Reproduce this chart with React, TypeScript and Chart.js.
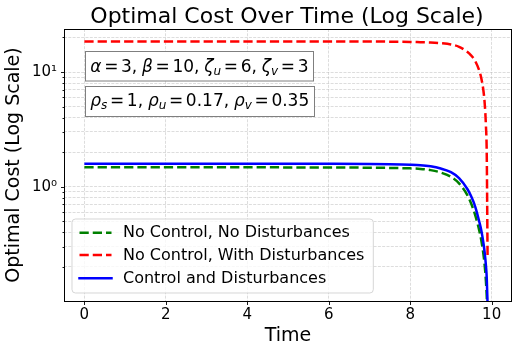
import React, { useEffect, useRef } from 'react';
import { Chart, registerables } from 'chart.js';

Chart.register(...registerables);

// ---- data ----
const TIMES = [0, 1, 2, 3, 4, 5, 6, 7, 7.5, 8, 8.25, 8.5, 8.75, 9, 9.2, 9.4, 9.5, 9.6, 9.7, 9.75, 9.8, 9.83, 9.86, 9.88, 9.9];
const COST_NO_CONTROL_NO_DIST = [1.476, 1.476, 1.476, 1.476, 1.475, 1.474, 1.472, 1.465, 1.458, 1.445, 1.43, 1.395, 1.33, 1.22, 1.07, 0.85, 0.71, 0.56, 0.41, 0.335, 0.255, 0.205, 0.15, 0.11, 0.07];
const COST_NO_CONTROL_WITH_DIST = [18.5, 18.5, 18.5, 18.5, 18.5, 18.5, 18.48, 18.45, 18.4, 18.3, 18.2, 18.1, 17.85, 17.4, 16.6, 15.0, 13.9, 12.4, 10.2, 8.7, 6.8, 5.3, 3.4, 1.9, 0.25];
const COST_CONTROL_AND_DIST = [1.587, 1.587, 1.587, 1.587, 1.586, 1.585, 1.583, 1.577, 1.57, 1.555, 1.54, 1.505, 1.44, 1.34, 1.19, 0.96, 0.82, 0.665, 0.49, 0.41, 0.32, 0.265, 0.205, 0.16, 0.095];

const SERIES_LABELS = ['No Control, No Disturbances', 'No Control, With Disturbances', 'Control and Disturbances'];
const SERIES_COLORS = ['#008000', '#ff0000', '#0000ff'];
const SERIES_DASHED = [true, true, false];

const X_TICKS = [0, 2, 4, 6, 8, 10];
const Y_TICKS = [0.2, 0.3, 0.4, 0.5, 0.6, 0.7, 0.8, 0.9, 1, 2, 3, 4, 5, 6, 7, 8, 9, 10, 20];
const Y_MAJOR = [1, 10];
const Y_TICK_LABELS: Record<number, string> = { 1: '10⁰', 10: '10¹' };

const TITLE = 'Optimal Cost Over Time (Log Scale)';
const X_LABEL = 'Time';
const Y_LABEL = 'Optimal Cost (Log Scale)';

type Seg = { s: string; it?: boolean; sub?: boolean; rel?: boolean; punct?: boolean };
const ANNOT_LINES: Seg[][] = [
  [
    { s: 'α', it: true }, { s: '=', rel: true }, { s: '3' }, { s: ',', punct: true },
    { s: 'β', it: true }, { s: '=', rel: true }, { s: '10' }, { s: ',', punct: true },
    { s: 'ζ', it: true }, { s: 'u', it: true, sub: true }, { s: '=', rel: true }, { s: '6' }, { s: ',', punct: true },
    { s: 'ζ', it: true }, { s: 'v', it: true, sub: true }, { s: '=', rel: true }, { s: '3' },
  ],
  [
    { s: 'ρ', it: true }, { s: 's', it: true, sub: true }, { s: '=', rel: true }, { s: '1' }, { s: ',', punct: true },
    { s: 'ρ', it: true }, { s: 'u', it: true, sub: true }, { s: '=', rel: true }, { s: '0.17' }, { s: ',', punct: true },
    { s: 'ρ', it: true }, { s: 'v', it: true, sub: true }, { s: '=', rel: true }, { s: '0.35' },
  ],
];

const FONT = '"DejaVu Sans", sans-serif';
const GRID = 'rgba(176,176,176,0.55)';

function drawMath(ctx: CanvasRenderingContext2D, segs: Seg[], x0: number, baseline: number, size: number, draw: boolean): number {
  let x = x0;
  const subSize = Math.round(size * 0.7);
  const relGap = size * 0.155;
  for (const sg of segs) {
    const fs = sg.sub ? subSize : size;
    ctx.font = `${sg.it ? 'italic ' : ''}${fs}px ${FONT}`;
    if (sg.rel) x += relGap;
    const w = ctx.measureText(sg.s).width;
    if (draw) ctx.fillText(sg.s, x, baseline + (sg.sub ? size * 0.2 : 0));
    x += w;
    if (sg.rel) x += relGap;
    if (sg.punct) {
      ctx.font = `${size}px ${FONT}`;
      x += ctx.measureText(' ').width * 0.9;
    }
  }
  return x - x0;
}

const overlayPlugin = {
  id: 'overlay',
  afterDatasetsDraw(chart: any) {
    const { ctx, chartArea } = chart;
    const xs = chart.scales.x;
    const ys = chart.scales.y;
    ctx.save();

    // annotation boxes
    const boxes = [
      { top: 51.5, h: 29.5, base: 71.7 },
      { top: 86.5, h: 30, base: 106 },
    ];
    ANNOT_LINES.forEach((segs, i) => {
      const b = boxes[i];
      const left = 85.5;
      const tx = left + 4.8;
      ctx.textAlign = 'left';
      ctx.textBaseline = 'alphabetic';
      const w = drawMath(ctx, segs, tx, b.base, 17, false);
      const bw = Math.round(tx + w + 5 - left);
      ctx.fillStyle = '#ffffff';
      ctx.fillRect(left, b.top, bw, b.h);
      ctx.strokeStyle = '#7f7f7f';
      ctx.lineWidth = 1;
      ctx.strokeRect(left, b.top, bw, b.h);
      ctx.fillStyle = '#000';
      drawMath(ctx, segs, tx, b.base, 17, true);
    });

    // legend
    const lx = 72, ly = 219, lw = 301.3, lh = 74, r = 3.5;
    ctx.beginPath();
    ctx.moveTo(lx + r, ly);
    ctx.lineTo(lx + lw - r, ly);
    ctx.quadraticCurveTo(lx + lw, ly, lx + lw, ly + r);
    ctx.lineTo(lx + lw, ly + lh - r);
    ctx.quadraticCurveTo(lx + lw, ly + lh, lx + lw - r, ly + lh);
    ctx.lineTo(lx + r, ly + lh);
    ctx.quadraticCurveTo(lx, ly + lh, lx, ly + lh - r);
    ctx.lineTo(lx, ly + r);
    ctx.quadraticCurveTo(lx, ly, lx + r, ly);
    ctx.closePath();
    ctx.fillStyle = 'rgba(255,255,255,0.8)';
    ctx.fill();
    ctx.strokeStyle = 'rgba(204,204,204,0.8)';
    ctx.lineWidth = 1;
    ctx.stroke();
    const rows = [232.7, 255, 278.3];
    SERIES_LABELS.forEach((lab, i) => {
      const yy = rows[i];
      ctx.beginPath();
      ctx.strokeStyle = SERIES_COLORS[i];
      ctx.lineWidth = 2.5;
      ctx.setLineDash(SERIES_DASHED[i] ? [9.25, 4] : []);
      ctx.lineCap = SERIES_DASHED[i] ? 'butt' : 'square';
      ctx.moveTo(79.5, yy);
      ctx.lineTo(111.5, yy);
      ctx.stroke();
      ctx.setLineDash([]);
      ctx.lineCap = 'butt';
      ctx.fillStyle = '#000';
      ctx.font = `16px ${FONT}`;
      ctx.textAlign = 'left';
      ctx.textBaseline = 'middle';
      ctx.fillText(lab, 123, yy + 0.5);
    });

    // spines
    ctx.strokeStyle = '#000';
    ctx.lineWidth = 1;
    const L = Math.round(chartArea.left) + 0.5;
    const R = Math.round(chartArea.right) - 0.5;
    const T = Math.round(chartArea.top) + 0.5;
    const B = Math.round(chartArea.bottom) + 0.5;
    ctx.strokeRect(L, T, R - L, B - T);

    // tick marks
    ctx.lineWidth = 0.9;
    Y_TICKS.forEach((v) => {
      const py = Math.round(ys.getPixelForValue(v)) + 0.5;
      const len = Y_MAJOR.includes(v) ? 3.5 : 2;
      ctx.beginPath();
      ctx.moveTo(L, py);
      ctx.lineTo(L - len, py);
      ctx.stroke();
    });
    X_TICKS.forEach((v) => {
      const px = Math.round(xs.getPixelForValue(v)) + 0.5;
      ctx.beginPath();
      ctx.moveTo(px, B);
      ctx.lineTo(px, B + 3.5);
      ctx.stroke();
    });

    // title
    ctx.fillStyle = '#000';
    ctx.font = `22px ${FONT}`;
    ctx.textAlign = 'center';
    ctx.textBaseline = 'alphabetic';
    ctx.fillText(TITLE, (chartArea.left + chartArea.right) / 2 - 1, 23.3);

    ctx.restore();
  },
};

export default function App() {
  const ref = useRef<HTMLCanvasElement>(null);
  useEffect(() => {
    document.body.style.margin = '0';
    const canvas = ref.current!;
    const series = [COST_NO_CONTROL_NO_DIST, COST_NO_CONTROL_WITH_DIST, COST_CONTROL_AND_DIST];
    const chart = new Chart(canvas, {
      type: 'line',
      data: {
        datasets: series.map((vals, i) => ({
          label: SERIES_LABELS[i],
          data: TIMES.map((t, j) => ({ x: t, y: vals[j] })),
          borderColor: SERIES_COLORS[i],
          backgroundColor: SERIES_COLORS[i],
          borderWidth: 2.5,
          borderDash: SERIES_DASHED[i] ? [9.25, 4] : [],
          pointRadius: 0,
          fill: false,
          cubicInterpolationMode: 'monotone' as const,
          clip: 0,
          order: 3 - i,
        })),
      },
      options: {
        animation: false,
        responsive: false,
        devicePixelRatio: 1,
        layout: { padding: { top: 29, right: 6, bottom: 0, left: 0 } },
        plugins: {
          legend: { display: false },
          title: { display: false },
          tooltip: { enabled: false },
        },
        scales: {
          x: {
            type: 'linear',
            min: -0.5,
            max: 10.5,
            afterBuildTicks: (s: any) => { s.ticks = X_TICKS.map((v) => ({ value: v })); },
            afterFit: (s: any) => { s.height = 52; },
            grid: { color: GRID, lineWidth: 0.8, drawTicks: false },
            border: { display: false, dash: [3, 1.3] },
            ticks: { font: { size: 15, family: FONT }, color: '#000', padding: 5, autoSkip: false, maxRotation: 0 },
            title: { display: true, text: X_LABEL, font: { size: 19, family: FONT }, color: '#000', padding: { top: 0, bottom: 5.5 } },
          },
          y: {
            type: 'logarithmic',
            min: 0.1008,
            max: 23.72,
            afterBuildTicks: (s: any) => { s.ticks = Y_TICKS.map((v) => ({ value: v })); },
            afterFit: (s: any) => { s.width = 64; },
            grid: { color: GRID, lineWidth: 0.8, drawTicks: false },
            border: { display: false, dash: [3, 1.3] },
            ticks: {
              font: { size: 15, family: FONT },
              color: '#000',
              padding: 7,
              autoSkip: false,
              callback: (v: any) => Y_TICK_LABELS[Number(v)] ?? '',
            },
            title: { display: true, text: Y_LABEL, font: { size: 19, family: FONT }, color: '#000', padding: { top: 3, bottom: 0 } },
          },
        },
      },
      plugins: [overlayPlugin],
    } as any);
    return () => chart.destroy();
  }, []);
  return (
    <div style={{ width: 518, height: 353 }}>
      <canvas ref={ref} width={518} height={353} style={{ display: 'block' }} />
    </div>
  );
}
